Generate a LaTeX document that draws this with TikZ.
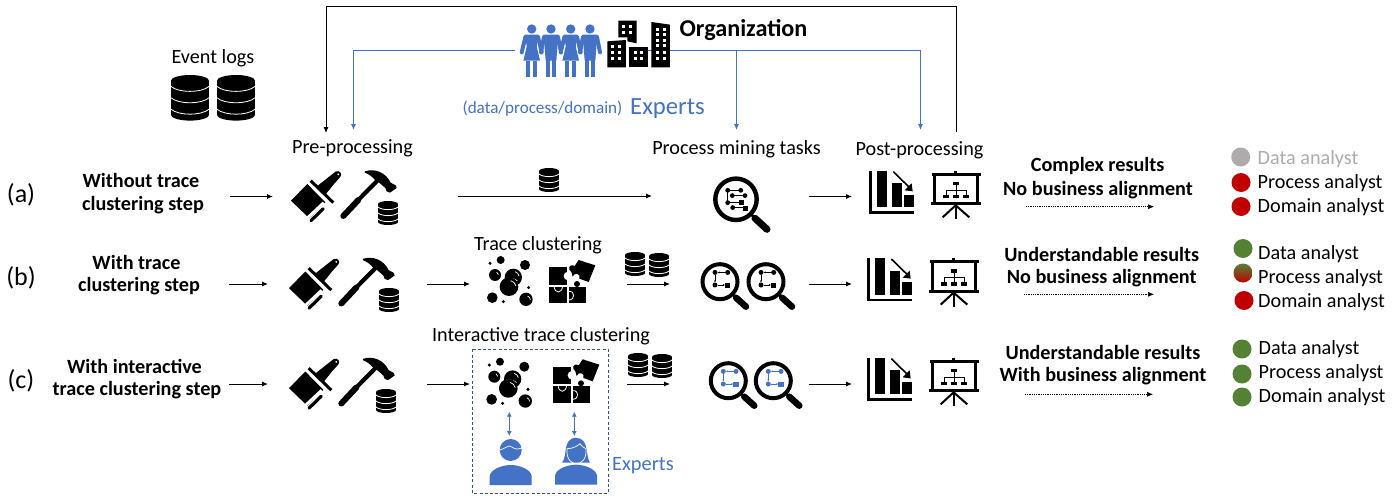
\documentclass[tikz,border=0pt]{standalone}
\usepackage{fontspec}
\setmainfont{Carlito}
\usetikzlibrary{arrows.meta}
\definecolor{bl}{HTML}{4472C4}
\definecolor{dbl}{HTML}{2F5597}
\definecolor{rd}{HTML}{C00000}
\definecolor{gn}{HTML}{548235}
\definecolor{gy}{HTML}{AFABAB}
\tikzset{
 x=1pt,y=-1pt,
 lab/.style={inner sep=0pt,yshift=-1.2pt,font=\fontsize{20.2}{22}\selectfont,text=black},
 blab/.style={inner sep=0pt,font=\fontsize{20.2}{22}\selectfont\bfseries,text=black},
 anl/.style={inner sep=0pt,yshift=-0.8pt,anchor=west,font=\fontsize{20.2}{22}\selectfont,text=black},
 rowlab/.style={inner sep=0pt,yshift=-1.5pt,font=\fontsize{26}{28}\selectfont},
 arr/.style={line width=0.9pt,-{Latex[length=6pt,width=5pt]}},
 dotarr/.style={line width=0.6pt,dash pattern=on 1pt off 0.8pt,-{Latex[length=6pt,width=5pt]}},
 barr/.style={line width=0.9pt,bl,-{Latex[length=6pt,width=5pt]}},
 dbarr/.style={line width=0.9pt,bl,{Latex[length=5pt,width=5pt]}-{Latex[length=5pt,width=5pt]}},
 dot/.style={circle,inner sep=0pt,minimum size=19pt},
 pics/dbi/.style={code={
   \fill (0,3) rectangle (20,21);
   \fill (10,3) ellipse [x radius=10,y radius=3];
   \fill (10,21) ellipse [x radius=10,y radius=3];
   \draw[white,line width=0.8pt] (0,6) .. controls (4,9.5) and (16,9.5) .. (20,6);
   \draw[white,line width=0.8pt] (0,12) .. controls (4,15.5) and (16,15.5) .. (20,12);
   \draw[white,line width=0.8pt] (0,18) .. controls (4,21.5) and (16,21.5) .. (20,18);
 }},
 pics/brushhammer/.style={code={
  \begin{scope}[scale=0.3333]
   \fill (33,122) -- (82,72) -- (136,127) -- (88,175) -- cycle;
   \fill[white] (78,172) -- (128,125) -- (134,131) -- (84,178) -- cycle;
   \draw[line width=3.2pt,line cap=round] (93,182) -- (130,146);
   \draw[line width=3pt] (92,62) -- (160,128);
   \fill (112,78) -- (150,48) -- (168,34) .. controls (178,30) and (190,42) .. (180,52) -- (162,72) -- (137,103) -- cycle;
   \fill[white] (175,43) circle (3);
   \draw[line width=6pt,line cap=round] (190,168) -- (235,120);
   \draw[line width=4.2pt] (225,130) -- (296,58);
   \fill (255,34) .. controls (285,24) and (318,38) .. (332,68) -- (347,76) -- (350,84) -- (330,98) -- (320,94) -- (316,84) -- (300,70) -- (283,58) .. controls (275,48) and (265,42) .. (255,38) -- cycle;
  \end{scope}
 }},
 pics/bubbles/.style={code={
  \begin{scope}[scale=0.3333]
   \fill (62,30) circle (12);
   \fill (30,40) circle (5);
   \fill (135,45) circle (15);
   \fill (45,75) circle (18);
   \fill (37,143) circle (16);
   \fill (146,113) circle (5);
   \fill (70,155) circle (5);
   \fill (100,82) circle (26);
   \draw[white,line width=0.7pt] (62,98) .. controls (72,82) and (92,80) .. (112,92);
   \fill (87,110) circle (28);
   \fill (138,148) circle (20);
   \draw[white,line width=0.7pt] (92,92) .. controls (100,94) and (106,100) .. (108,108);
   \draw[white,line width=0.7pt] (143,138) .. controls (148,140) and (150,144) .. (151,149);
   \draw[white,line width=0.7pt] (50,66) .. controls (53,68) and (55,70) .. (55,74);
   \draw[white,line width=0.7pt] (105,65) .. controls (112,67) and (116,72) .. (117,78);
  \end{scope}
 }},
 pics/puzzle/.style={code={
  \begin{scope}[scale=0.3333]
   \fill (208,52) rectangle (262,104);
   \fill[white] (264,78) circle (13);
   \fill (208,110) rectangle (262,160);
   \fill (266,110) rectangle (318,160);
   \fill (291,102) circle (9);
   \draw[white,line width=0.8pt] (222,108) .. controls (224,132) and (246,132) .. (248,108);
   \draw[white,line width=0.8pt] (266,124) .. controls (286,122) and (286,150) .. (266,150);
   \fill (296,30) -- (346,46) -- (326,96) -- (298,86) .. controls (304,70) and (282,66) .. (278,80) -- (274,66) .. controls (262,58) and (266,40) .. (284,48) -- cycle;
  \end{scope}
 }},
 pics/mag/.style={code={
   \draw[line width=4pt] (0,0) circle (17.5);
   \draw[line width=2.4pt] (12,12) -- (18,18);
   \draw[line width=6.5pt,line cap=round] (16,16) -- (26,25);
   \path (0,0) pic {graphb=#1};
 }},
 pics/magbig/.style={code={
   \draw[line width=4.4pt] (0,0) circle (20.7);
   \draw[line width=2.6pt] (14,14) -- (21,21);
   \draw[line width=7pt,line cap=round] (19,19) -- (31,30);
   \begin{scope}[line width=0.7pt,black]
    \fill (-8.3,-9) circle (2.4);
    \fill (4.7,-9) circle (2.4);
    \draw (4,-9) -- (-6,-9);
    \draw (-8.3,-9) -- (-8.3,3);
    \fill (-3.7,-3.7) circle (2.4);
    \fill (9,-3.7) circle (2.4);
    \draw (9,-3.7) -- (-3.7,-3.7);
    \fill (-8.3,3.3) circle (2.4);
    \fill (2.5,1) rectangle (7.5,6);
    \draw (-8.3,3.3) -- (4,3.3);
    \fill (-3.3,8.3) circle (2.4);
    \fill (7,6.3) rectangle (12,11.3);
    \draw (-3.3,8.3) -- (8,8.3);
   \end{scope}
 }},
 pics/graphb/.style={code={
   \fill[#1] (-5,-9.3) circle (2.5);
   \fill[#1] (7.7,-9.3) circle (2.5);
   \fill[#1] (-5,3.3) circle (2.5);
   \fill[#1] (5,0.8) rectangle (10.2,5.8);
   \draw[#1,line width=0.6pt,-{Latex[length=2pt,width=2pt]}] (5.5,-9.3) -- (-2.4,-9.3);
   \draw[#1,line width=0.6pt,-{Latex[length=2pt,width=2pt]}] (-5,-6.8) -- (-5,0.8);
   \draw[#1,line width=0.6pt,-{Latex[length=2pt,width=2pt]}] (-2.5,3.3) -- (5,3.3);
 }},
 pics/chart/.style={code={
  \begin{scope}[scale=0.3333]
   \draw[line width=2.8pt] (572,122) -- (572,248) -- (702,248);
   \fill (590,122) rectangle (620,232);
   \fill (635,160) rectangle (665,232);
   \fill (672,195) rectangle (702,232);
   \draw[white,line width=3.6pt] (636,118) -- (692,175);
   \draw[line width=1.6pt] (640,125) -- (688,172);
   \fill (698,184) -- (695,160) -- (674,181) -- cycle;
  \end{scope}
 }},
 pics/screen/.style={code={
  \begin{scope}[scale=0.3333]
   \draw[line width=3pt] (755,134) -- (902,134);
   \draw[line width=2.6pt] (827,122) -- (827,134);
   \draw[line width=2.8pt] (764,134) -- (764,221);
   \draw[line width=2.8pt] (893,134) -- (893,221);
   \draw[line width=3pt] (752,222) -- (902,222);
   \draw[line width=2pt] (827,222) -- (827,268);
   \draw[line width=2pt] (827,226) -- (788,262);
   \draw[line width=2pt] (827,226) -- (868,262);
   \fill (818,155) rectangle (838,166);
   \fill (788,194) rectangle (808,205);
   \fill (818,194) rectangle (838,205);
   \fill (848,194) rectangle (868,205);
   \draw[line width=0.8pt] (828,166) -- (828,194);
   \draw[line width=0.8pt] (798,194) -- (798,181) -- (858,181) -- (858,194);
  \end{scope}
 }},
 pics/woman/.style={code={
  \begin{scope}[scale=0.3333]
   \fill[bl] (0,0) circle (14);
   \fill[bl] (-20,17) -- (20,17) -- (15,52) -- (25,95) -- (-25,95) -- (-15,52) -- cycle;
   \fill[bl] (-16,95) rectangle (-4,144);
   \fill[bl] (4,95) rectangle (16,144);
   \draw[bl,line width=4pt,line cap=round] (-19,24) -- (-30,70);
   \draw[bl,line width=4pt,line cap=round] (19,24) -- (30,70);
  \end{scope}
 }},
 pics/manf/.style={code={
  \begin{scope}[scale=0.3333]
   \fill[bl] (0,0) circle (14);
   \fill[bl] (-22,17) -- (22,17) -- (16,95) -- (-16,95) -- cycle;
   \fill[bl] (-16,90) rectangle (-3,144);
   \fill[bl] (3,90) rectangle (16,144);
   \draw[bl,line width=4pt,line cap=round] (-21,24) -- (-30,70);
   \draw[bl,line width=4pt,line cap=round] (21,24) -- (30,70);
  \end{scope}
 }},
 pics/bldg/.style={code={
  \begin{scope}[scale=0.3333]
   \fill[white] (284,84) rectangle (356,180);
   \fill (325,32) -- (380,32) -- (380,100) -- (352,94) -- (352,82) -- (325,82) -- cycle;
   \fill (292,94) -- (348,90) -- (348,172) -- (292,172) -- cycle;
   \fill (358,110) -- (414,110) -- (414,172) -- (358,172) -- cycle;
   \fill (424,36) -- (480,44) -- (480,172) -- (424,172) -- cycle;
   \foreach \a in {342,362}{\foreach \b in {50,67}{\fill[white] (\a-4.5,\b-4.5) rectangle (\a+4.5,\b+4.5);}}
   \foreach \a in {309,329}{\foreach \b in {110,127,145}{\fill[white] (\a-4.5,\b-4.5) rectangle (\a+4.5,\b+4.5);}}
   \foreach \a in {376,396}{\foreach \b in {127,145}{\fill[white] (\a-4.5,\b-4.5) rectangle (\a+4.5,\b+4.5);}}
   \foreach \a in {443,463}{\foreach \b in {58,74,91,108,127,145}{\fill[white] (\a-4.5,\b-4.5) rectangle (\a+4.5,\b+4.5);}}
  \end{scope}
 }},
 pics/exman/.style={code={
   \fill[bl] (0,0) circle (11);
   \draw[white,line width=0.7pt] (-11,0) .. controls (-7,-1) and (-3,-4) .. (-1,-4) .. controls (2,-3) and (5,1) .. (11,-2);
   \fill[bl] (-21,35) -- (-21,26) .. controls (-20,19) and (-8,15) .. (0,15) .. controls (8,15) and (20,19) .. (21,26) -- (21,35) -- cycle;
 }},
 pics/exwoman/.style={code={
   \fill[bl] (-14,11) .. controls (-8,4) and (-14,-13) .. (0,-14) .. controls (14,-13) and (9,4) .. (14,11) -- cycle;
   \draw[white,line width=0.7pt] (-9,-3) .. controls (-3,-3) and (2,-6) .. (4,-8) .. controls (6,-5) and (8,-4) .. (10,-3);
   \draw[white,line width=0.7pt] (-9,-3) .. controls (-10,8) and (-4,12) .. (0,12) .. controls (5,12) and (11,8) .. (10,-3);
   \fill[bl] (-21,33) -- (-21,24) .. controls (-20,17) and (-8,13) .. (0,13) .. controls (8,13) and (20,17) .. (21,24) -- (21,33) -- cycle;
 }},
}
\begin{document}
\begin{tikzpicture}
\useasboundingbox (0,0) rectangle (1393,498);
\fill[white] (0,0) rectangle (1393,498);
% ---- coordinates for connectors
\coordinate (fbA) at (956,132); \coordinate (fbB) at (956,6); \coordinate (fbC) at (326,6); \coordinate (fbD) at (326,133);
\coordinate (orgL) at (515,50); \coordinate (orgLc) at (353.5,50); \coordinate (orgLe) at (353.5,130);
\coordinate (orgR) at (625,50); \coordinate (orgRm) at (736.5,50); \coordinate (orgRme) at (736.5,130);
\coordinate (orgRc) at (920.5,50); \coordinate (orgRe) at (920.5,130);
\coordinate (a0) at (230,196.5); \coordinate (a1) at (273,196.5);
\coordinate (a2) at (458,196); \coordinate (a3) at (652,196);
\coordinate (a4) at (809,196.5); \coordinate (a5) at (852,196.5);
\coordinate (a6) at (1026,206.7); \coordinate (a7) at (1154,206.7);
\coordinate (b0) at (229,284); \coordinate (b1) at (268,284);
\coordinate (b2) at (427,284); \coordinate (b3) at (470,284);
\coordinate (b4) at (627,284); \coordinate (b5) at (670,284);
\coordinate (b6) at (809,284); \coordinate (b7) at (852,284);
\coordinate (b8) at (1024,294.3); \coordinate (b9) at (1154,294.3);
\coordinate (c0) at (229,384); \coordinate (c1) at (268,384);
\coordinate (c2) at (427,384); \coordinate (c3) at (470,384);
\coordinate (c4) at (627,384); \coordinate (c5) at (670,384);
\coordinate (c6) at (809,384); \coordinate (c7) at (852,384);
\coordinate (c8) at (1025,394.3); \coordinate (c9) at (1153,394.3);
\coordinate (u1) at (509.3,411.7); \coordinate (u2) at (509.3,436);
\coordinate (v1) at (574.3,411.7); \coordinate (v2) at (574.3,436);
% ---- connectors
\draw[line width=0.9pt,-{Latex[length=6pt,width=5pt]}] (fbA) -- (fbB) -- (fbC) -- (fbD);
\draw[barr] (orgL) -- (orgLc) -- (orgLe);
\draw[line width=0.9pt,bl] (orgR) -- (orgRc);
\draw[barr] (orgRm) -- (orgRme);
\draw[barr] (orgRc) -- (orgRe);
\foreach \s/\e in {a0/a1,a2/a3,a4/a5,b0/b1,b2/b3,b4/b5,b6/b7,c0/c1,c2/c3,c4/c5,c6/c7}{\draw[arr] (\s) -- (\e);}
\foreach \s/\e in {a6/a7,b8/b9,c8/c9}{\draw[dotarr] (\s) -- (\e);}
\draw[dbarr] (u1) -- (u2);
\draw[dbarr] (v1) -- (v2);
% ---- organization
\pic at (531.7,29) {woman};
\pic at (551,29) {manf};
\pic at (570.7,29) {woman};
\pic at (590,29) {manf};
\pic at (510,10) {bldg};
\node[inner sep=0pt,font=\fontsize{24.2}{26}\selectfont\bfseries] (org) at (743.5,30.5) {Organization};
\node[inner sep=0pt,yshift=-0.5pt,font=\fontsize{17.1}{19}\selectfont,text=bl] (dpd) at (542.5,108) {(data/process/domain)};
\node[inner sep=0pt,font=\fontsize{24.7}{26}\selectfont,text=bl] (exp) at (667.5,108.5) {Experts};
% ---- event logs
\node[lab] (ev) at (213,57) {Event logs};
\pic[scale=1.9] at (171,75) {dbi};
\pic[scale=1.9] at (217,75) {dbi};
% ---- headers
\node[lab] (pre) at (352.5,147) {Pre-processing};
\node[lab] (pmt) at (736.5,148) {Process mining tasks};
\node[lab] (post) at (919.5,149) {Post-processing};
\node[lab] (tc) at (538,244) {Trace clustering};
\node[lab] (itc) at (541,335) {Interactive trace clustering};
% ---- row labels
\node[rowlab] (la) at (21,193) {(a)};
\node[rowlab] (lb) at (21,276) {(b)};
\node[rowlab] (lc) at (21,379) {(c)};
\node[blab] (ta1) at (141,180) {Without trace};
\node[blab] (ta2) at (143,205) {clustering step};
\node[blab] (tb1) at (136.5,262) {With trace};
\node[blab] (tb2) at (139,286) {clustering step};
\node[blab] (tc1) at (134.5,366) {With interactive};
\node[blab] (tc2) at (137,390) {trace clustering step};
% ---- row a icons
\pic at (280,160) {brushhammer};
\pic at (378,201) {dbi};
\pic at (539,168) {dbi};
\pic[scale=1] at (736,199.3) {magbig};
\pic at (680,130) {chart};
\pic at (680,130) {screen};
% ---- row b icons
\pic at (278,247.5) {brushhammer};
\pic at (379,288) {dbi};
\pic at (480,250) {bubbles};
\pic at (480,250) {puzzle};
\pic at (625,252) {dbi};
\pic at (649,253) {dbi};
\pic at (720,281.7) {mag=black};
\pic at (766,281.7) {mag=black};
\pic at (678,217.3) {chart};
\pic at (678,217.3) {screen};
% ---- row c icons
\pic at (278,347.5) {brushhammer};
\pic at (376,389) {dbi};
\pic at (479.3,351.7) {bubbles};
\pic at (484,349.3) {puzzle};
\pic at (628,353) {dbi};
\pic at (652,354) {dbi};
\pic at (728.3,380.7) {mag=bl};
\pic at (773.3,380.7) {mag=bl};
\pic at (678,317) {chart};
\pic at (678,317) {screen};
% ---- experts box
\draw[dbl,line width=0.9pt,dash pattern=on 3pt off 2.2pt] (472.7,349.3) rectangle (608.3,493.3);
\pic at (510.7,450) {exman};
\pic at (576,451.7) {exwoman};
\node[inner sep=0pt,font=\fontsize{20.4}{22}\selectfont,text=bl] (exp2) at (643,465.5) {Experts};
% ---- results
\node[blab] (ra1) at (1097.7,166) {Complex results};
\node[blab] (ra2) at (1098,190) {No business alignment};
\node[blab] (rb1) at (1101.7,254) {Understandable results};
\node[blab] (rb2) at (1101.7,278) {No business alignment};
\node[blab] (rc1) at (1103,352) {Understandable results};
\node[blab] (rc2) at (1103,376) {With business alignment};
% ---- analysts
\node[dot,fill=gy] (d1) at (1240.7,157) {};
\node[dot,fill=rd] (d2) at (1241,182.5) {};
\node[dot,fill=rd] (d3) at (1241,206.5) {};
\node[dot,fill=gn] (d4) at (1243,248.5) {};
\node[dot,top color=gn,bottom color=rd,middle color=gn!50!rd] (d5) at (1243,273) {};
\node[dot,fill=rd] (d6) at (1244,300.5) {};
\node[dot,fill=gn] (d7) at (1242,349) {};
\node[dot,fill=gn] (d8) at (1242,374) {};
\node[dot,fill=gn] (d9) at (1242,397) {};
\node[anl,text=gy] (t1) at (1257.5,158) {Data analyst};
\node[anl] (t2) at (1257.5,182) {Process analyst};
\node[anl] (t3) at (1257.5,206) {Domain analyst};
\node[anl] (t4) at (1258,253) {Data analyst};
\node[anl] (t5) at (1258,277) {Process analyst};
\node[anl] (t6) at (1258,301) {Domain analyst};
\node[anl] (t7) at (1258.5,348) {Data analyst};
\node[anl] (t8) at (1258.5,372) {Process analyst};
\node[anl] (t9) at (1258.5,396) {Domain analyst};
\end{tikzpicture}
\end{document}
